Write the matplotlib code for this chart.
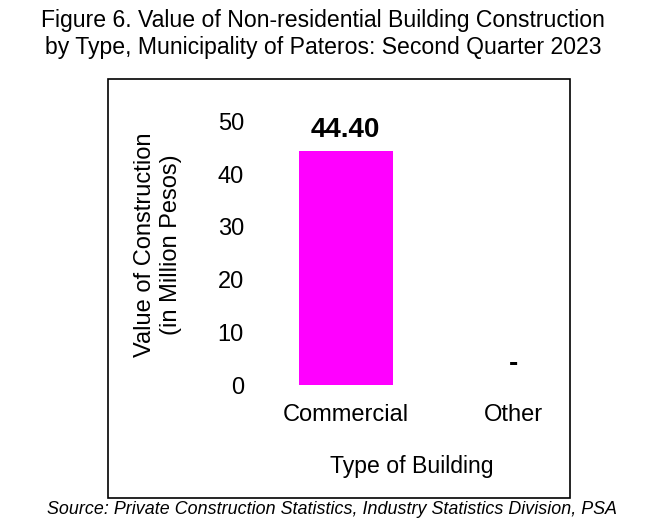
import matplotlib.pyplot as plt
from matplotlib.patches import Rectangle

plt.rcParams['font.family'] = ['Liberation Sans', 'DejaVu Sans']

categories = ['Commercial', 'Other']
values = [44.40, 0.0]
bar_labels = ['44.40', '-']

W, H = 647, 532
fig = plt.figure(figsize=(W / 100, H / 100), dpi=100)

# axes placed in pixel terms
left, right, top, bottom = 262, 570, 121.5, 385
ax = fig.add_axes([left / W, 1 - bottom / H, (right - left) / W, (bottom - top) / H])
ax.bar(range(len(categories)), values, width=0.56, color='#ff00ff')
ax.set_xlim(-0.5, 1.34)
ax.set_ylim(0, 50)
ax.set_yticks([0, 10, 20, 30, 40, 50])
ax.set_xticks(range(len(categories)))
ax.set_xticklabels(categories, fontsize=17)
ax.tick_params(axis='y', labelsize=17, length=0, pad=13)
ax.tick_params(axis='x', length=0, pad=14)
for s in ax.spines.values():
    s.set_visible(False)
ax.patch.set_alpha(0)

for i, (v, lab) in enumerate(zip(values, bar_labels)):
    ax.text(i, v + 1.6, lab, ha='center', va='bottom', fontsize=20, fontweight='bold')

# outer box
fig.patches.append(Rectangle((108 / W, 1 - 498 / H), (570 - 108) / W, (498 - 79) / H,
                             transform=fig.transFigure, fill=False, edgecolor='black', linewidth=1.2))

fig.text(323 / W, 1 - 34 / H, 'Figure 6. Value of Non-residential Building Construction\n'
         'by Type, Municipality of Pateros: Second Quarter 2023',
         ha='center', va='center', fontsize=16.6, linespacing=1.25)
fig.text(158 / W, 1 - 245 / H, 'Value of Construction\n(in Million Pesos)', rotation=90,
         ha='center', va='center', fontsize=17, linespacing=1.25)
fig.text(412 / W, 1 - 467 / H, 'Type of Building', ha='center', va='center', fontsize=16.6)
fig.text(332 / W, 1 - 510 / H, 'Source: Private Construction Statistics, Industry Statistics Division, PSA',
         ha='center', va='center', fontsize=12.9, style='italic')

fig.savefig('out.png', dpi=100)
